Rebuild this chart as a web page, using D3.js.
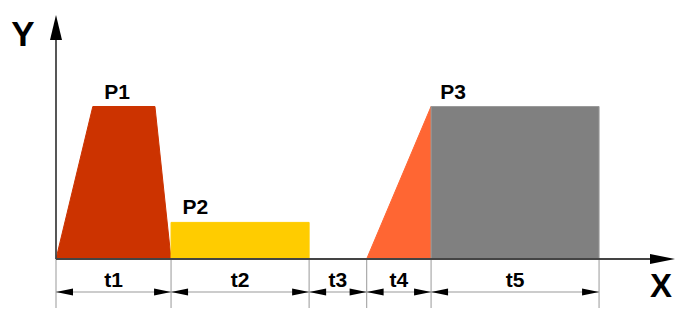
<!DOCTYPE html>
<html>
<head>
<meta charset="utf-8">
<script src="https://cdn.jsdelivr.net/npm/d3@7"></script>
<style>
  body { margin: 0; background: #fff; }
  svg text { font-family: "Liberation Sans", Arial, sans-serif; font-weight: bold; fill: #000; }
</style>
</head>
<body>
<svg width="700" height="323"></svg>
<script>
// phase durations along X (t1..t5)
var durations = [10, 12, 5, 5.6, 14.6];
var durLabels = ['t1', 't2', 't3', 't4', 't5'];

// shapes as [x, y] outline points in chart units
var p1Shape = [[0, 0], [3.2, 10], [8.6, 10], [10, 0]];
var p2Shape = [[10, 0], [10, 2.4], [22, 2.4], [22, 0]];
var p3Ramp = [[27, 0], [32.6, 10], [32.6, 0]];
var p3Hold = [[32.6, 0], [32.6, 10], [47.2, 10], [47.2, 0]];

var shapes = [
    { pts: p1Shape, fill: '#cc3300', stroke: '#cc3300' },
    { pts: p2Shape, fill: '#ffcc00', stroke: '#ffcc00' },
    { pts: p3Ramp, fill: '#ff6633', stroke: '#ff6633' },
    { pts: p3Hold, fill: '#808080', stroke: '#9a9a9a' }
];

// peak labels
var peakNames = ['P1', 'P2', 'P3'];
var peakX = [4.2, 11.0, 33.4];
var peakY = [10, 2.4, 10];

var svg = d3.select('svg');

var x = d3.scaleLinear().domain([0, 53.8]).range([56, 675]);
var y = d3.scaleLinear().domain([0, 16]).range([259, 15]);

var line = d3.line()
    .x(function (d) { return x(d[0]); })
    .y(function (d) { return y(d[1]); });

// boundaries from the durations
var bounds = [0];
durations.forEach(function (d, i) {
    bounds.push(Math.round((bounds[i] + d) * 10) / 10);
});

// dimension ticks below the axis
svg.selectAll('.dimTick')
    .data(bounds)
    .enter()
    .append('line')
    .attr('class', 'dimTick')
    .attr('x1', function (d) { return x(d); })
    .attr('x2', function (d) { return x(d); })
    .attr('y1', y(0))
    .attr('y2', y(0) + 49)
    .attr('stroke', '#aaa')
    .attr('stroke-width', 1.2);

// shapes
svg.selectAll('.shape')
    .data(shapes)
    .enter()
    .append('path')
    .attr('class', 'shape')
    .attr('d', function (d) { return line(d.pts) + 'Z'; })
    .attr('fill', function (d) { return d.fill; })
    .attr('stroke', function (d) { return d.stroke; })
    .attr('stroke-width', 1);

// axes
svg.append('line')
    .attr('x1', x(0)).attr('x2', x(53.8) - 20)
    .attr('y1', y(0)).attr('y2', y(0))
    .attr('stroke', '#444').attr('stroke-width', 1.8);
svg.append('line')
    .attr('x1', x(0)).attr('x2', x(0))
    .attr('y1', y(0)).attr('y2', y(16) + 20)
    .attr('stroke', '#444').attr('stroke-width', 1.8);

// axis arrowheads
var xt = x(53.8), yt = y(0);
svg.append('path')
    .attr('d', 'M' + xt + ',' + yt + 'L' + (xt - 25) + ',' + (yt - 5) + 'L' + (xt - 25) + ',' + (yt + 5) + 'Z')
    .attr('fill', '#000');
var ax = x(0), ay = y(16);
svg.append('path')
    .attr('d', 'M' + ax + ',' + ay + 'L' + (ax - 6) + ',' + (ay + 25) + 'L' + (ax + 6) + ',' + (ay + 25) + 'Z')
    .attr('fill', '#000');

svg.append('text').attr('x', 23).attr('y', 46).attr('text-anchor', 'middle')
    .style('font-size', '35px').text('Y');
svg.append('text').attr('x', 661).attr('y', 297).attr('text-anchor', 'middle')
    .style('font-size', '33px').text('X');

// dimension lines with arrows
var dimY = y(0) + 33;
var segs = durations.map(function (d, i) {
    return { a: bounds[i], b: bounds[i + 1], label: durLabels[i] };
});
segs.forEach(function (s) {
    var x0 = x(s.a), x1 = x(s.b);
    svg.append('line')
        .attr('x1', x0).attr('x2', x1)
        .attr('y1', dimY).attr('y2', dimY)
        .attr('stroke', '#999').attr('stroke-width', 1.2);
    svg.append('path')
        .attr('d', 'M' + x0 + ',' + dimY + 'L' + (x0 + 17) + ',' + (dimY - 3.5) + 'L' + (x0 + 17) + ',' + (dimY + 3.5) + 'Z')
        .attr('fill', '#000');
    svg.append('path')
        .attr('d', 'M' + x1 + ',' + dimY + 'L' + (x1 - 17) + ',' + (dimY - 3.5) + 'L' + (x1 - 17) + ',' + (dimY + 3.5) + 'Z')
        .attr('fill', '#000');
    svg.append('text')
        .attr('x', (x0 + x1) / 2)
        .attr('y', dimY - 5)
        .attr('text-anchor', 'middle')
        .style('font-size', '21px')
        .text(s.label);
});

// peak labels
svg.selectAll('.peak')
    .data(peakNames)
    .enter()
    .append('text')
    .attr('class', 'peak')
    .attr('x', function (d, i) { return x(peakX[i]); })
    .attr('y', function (d, i) { return y(peakY[i]) - 8; })
    .style('font-size', '21px')
    .text(function (d) { return d; });
</script>
</body>
</html>
